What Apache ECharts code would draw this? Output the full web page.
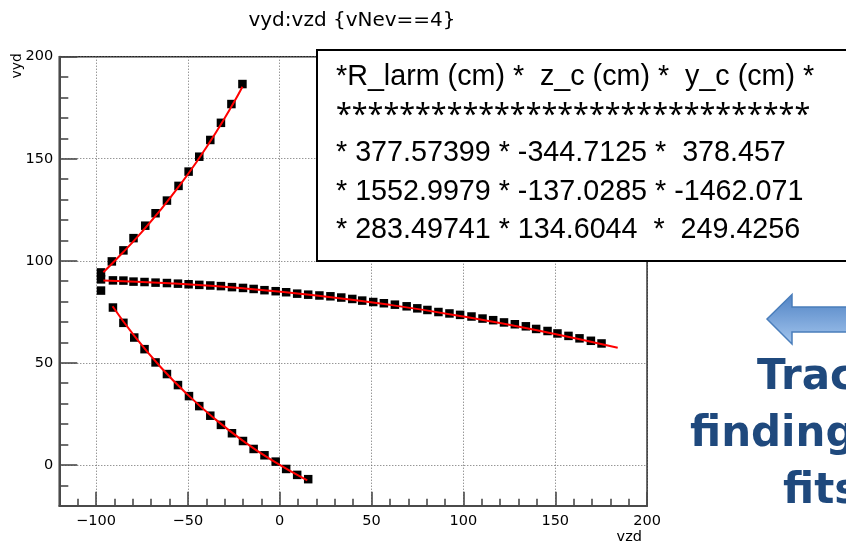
<!DOCTYPE html>
<html><head><meta charset="utf-8">
<script src="https://cdn.jsdelivr.net/npm/echarts@6/dist/echarts.min.js"></script>
<style>html,body{margin:0;padding:0;background:#fff}#c{width:846px;height:545px}</style>
</head><body><div id="c"></div>
<script>
// ---- data ----
const X_MIN = -120, X_MAX = 200, Y_MIN = -20, Y_MAX = 200;
const titleText = 'vyd:vzd {vNev==4}';
const xName = 'vzd', yName = 'vyd';

// measured points (vzd, vyd) of the three tracks
const trackA = [[-97.3,94.3],[-91.4,99.7],[-85.1,105.1],[-79.6,111.1],[-73.2,117.2],[-67.6,123.3],[-61.4,129.5],[-55.1,136.7],[-49.6,143.7],[-43.8,151.0],[-37.8,159.2],[-32.0,167.6],[-26.3,176.8],[-20.3,186.6]];
const trackB = [[-97.3,90.9],[-90.8,90.4],[-85.1,90.3],[-79.6,89.8],[-73.6,89.6],[-67.6,89.3],[-61.4,89.1],[-55.4,88.8],[-49.6,88.5],[-43.8,88.2],[-37.8,87.9],[-32.0,87.6],[-26.0,87.1],[-20.0,86.7],[-14.2,86.2],[-8.3,85.6],[-2.2,85.1],[3.5,84.6],[9.5,83.9],[15.5,83.4],[21.6,83.0],[27.6,82.6],[33.5,82.0],[39.5,81.3],[44.9,80.5],[50.9,79.8],[56.7,79.2],[62.7,78.5],[69.1,77.7],[74.9,76.7],[80.4,75.9],[86.4,74.9],[92.4,74.2],[98.2,73.5],[104.4,72.7],[110.4,71.7],[116.2,70.9],[122.1,69.8],[128.0,68.9],[134.0,67.9],[139.6,66.6],[145.8,65.6],[151.2,64.4],[157.2,63.2],[163.2,62.0],[169.4,60.8],[175.2,59.5]];
const trackC = [[-97.3,85.4],[-90.8,77.1],[-85.1,69.6],[-79.2,62.4],[-73.6,56.7],[-67.6,50.2],[-61.4,44.5],[-55.4,39.1],[-49.4,33.7],[-43.8,28.8],[-37.8,24.1],[-32.0,19.6],[-26.0,15.5],[-20.0,11.7],[-14.2,7.8],[-8.3,4.7],[-2.2,1.6],[3.5,-2.0],[9.5,-4.9],[15.5,-7.0]];

// red fit curves
const fitA = [[-96,94.4],[-85,104.4],[-75,114.2],[-65,124.8],[-55,136.3],[-45,148.8],[-35,162.5],[-25,177.6],[-20.3,185.3]];
const fitB = [[-96,90.4],[-60,89.0],[-20,86.5],[20,83.0],[60,78.4],[100,72.7],[140,66.0],[184,57.4]];
const fitC = [[-91,77.7],[-80,64.2],[-65,48.1],[-50,34.3],[-35,22.3],[-20,11.8],[-5,2.7],[15,-7.6]];

// text box lines and side text
const boxLines = [
  '*R_larm (cm) *  z_c (cm) *  y_c (cm) *',
  '******************************',
  '* 377.57399 * -344.7125 *  378.457',
  '* 1552.9979 * -137.0285 * -1462.071',
  '* 283.49741 * 134.6044  *  249.4256'
];
const sideText = ['Trac', 'finding', 'fits'];

// ---- chart ----
function fmt(v) {
  if (Math.abs(v % 50) > 1e-6) return '';
  return v < 0 ? '\u2212' + Math.abs(v) : String(v);
}
const axisCol = '#4a4a4a';
const chart = echarts.init(document.getElementById('c'));
const boxLineY = [76.7, 116, 153.2, 191.6, 229.9];
const boxGraphics = boxLines.map((t, i) => ({
  type: 'text', z: 102, x: 336, y: boxLineY[i],
  style: { text: t, fill: '#000', font: (i === 1 ? '28.7px "Noto Sans"' : '28.7px "Liberation Sans"'), textAlign: 'left', textVerticalAlign: 'middle' }
}));
const sideX = [757, 690, 783];
const sideY = [378, 435, 492];
const sideGraphics = sideText.map((t, i) => ({
  type: 'text', z: 102, x: sideX[i], y: sideY[i],
  style: { text: t, fill: '#1F497D', font: 'bold 42px "DejaVu Sans"', textAlign: 'left', textVerticalAlign: 'middle' }
}));

const option = {
  animation: false,
  grid: { left: 59.3, top: 56.7, width: 587.8, height: 449, show: true, borderColor: '#222', borderWidth: 1.5 },
  xAxis: {
    type: 'value', min: X_MIN, max: X_MAX, splitNumber: 6,
    axisLine: { show: true, onZero: false, lineStyle: { color: axisCol, width: 2 } },
    axisTick: { show: true, inside: true, length: 14, lineStyle: { color: axisCol, width: 1.6 } },
    minorTick: { show: true, splitNumber: 5, length: 7, lineStyle: { color: axisCol, width: 1.6 } },
    splitLine: { show: true, lineStyle: { color: '#6a6a6a', width: 1, type: [1, 2] } },
    axisLabel: { margin: 8, color: '#000', fontFamily: 'DejaVu Sans', fontSize: 14.5, formatter: fmt }
  },
  yAxis: {
    type: 'value', min: Y_MIN, max: Y_MAX, splitNumber: 5,
    axisLine: { show: true, onZero: false, lineStyle: { color: axisCol, width: 2 } },
    axisTick: { show: true, inside: true, length: 18, lineStyle: { color: axisCol, width: 1.6 } },
    minorTick: { show: true, splitNumber: 5, length: 9, lineStyle: { color: axisCol, width: 1.6 } },
    splitLine: { show: true, lineStyle: { color: '#6a6a6a', width: 1, type: [1, 2] } },
    axisLabel: { margin: 6, color: '#000', fontFamily: 'DejaVu Sans', fontSize: 14.5, formatter: fmt }
  },
  series: [
    { type: 'scatter', data: trackA, symbol: 'rect', symbolSize: 8.5, itemStyle: { color: '#000', opacity: 1 }, z: 2 },
    { type: 'scatter', data: trackB, symbol: 'rect', symbolSize: 8.5, itemStyle: { color: '#000', opacity: 1 }, z: 2 },
    { type: 'scatter', data: trackC, symbol: 'rect', symbolSize: 8.5, itemStyle: { color: '#000', opacity: 1 }, z: 2 },
    { type: 'line', data: fitA, smooth: true, showSymbol: false, lineStyle: { color: '#ff0000', width: 2 }, z: 3 },
    { type: 'line', data: fitB, smooth: true, showSymbol: false, lineStyle: { color: '#ff0000', width: 2 }, z: 3 },
    { type: 'line', data: fitC, smooth: true, showSymbol: false, lineStyle: { color: '#ff0000', width: 2 }, z: 3 }
  ],
  graphic: [
    { type: 'text', z: 100, x: 352, y: 21, style: { text: titleText, fill: '#000', font: '20px "DejaVu Sans"', textAlign: 'center', textVerticalAlign: 'middle' } },
    { type: 'text', z: 100, x: 17.5, y: 53, rotation: Math.PI / 2, style: { text: yName, fill: '#000', font: '14px "DejaVu Sans"', textAlign: 'right', textVerticalAlign: 'middle' } },
    { type: 'text', z: 100, x: 642, y: 530, style: { text: xName, fill: '#000', font: '14.5px "DejaVu Sans"', textAlign: 'right', textVerticalAlign: 'top' } },
    { type: 'rect', z: 101, shape: { x: 317, y: 50, width: 560, height: 211 }, style: { fill: '#fff', stroke: '#000', lineWidth: 2 } },
    ...boxGraphics,
    { type: 'polygon', z: 101, shape: { points: [[767, 319], [792, 294.5], [792, 307], [860, 307], [860, 332], [792, 332], [792, 344]] },
      style: { fill: new echarts.graphic.LinearGradient(0, 0, 0, 1, [{ offset: 0, color: '#4F82C4' }, { offset: 1, color: '#A4C6EE' }]), stroke: '#4A7EBB', lineWidth: 1.5 } },
    ...sideGraphics
  ]
};
chart.setOption(option);
</script>
</body></html>
